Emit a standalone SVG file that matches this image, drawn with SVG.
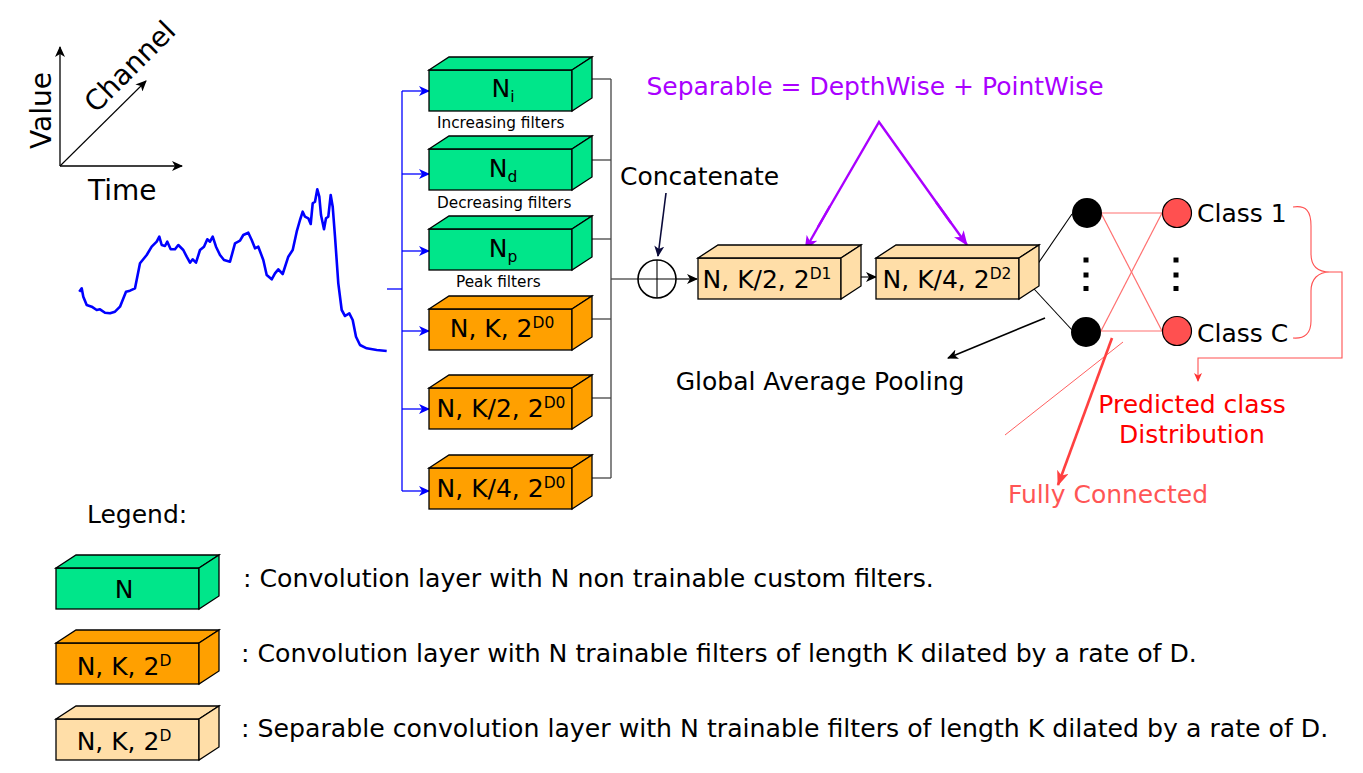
<svg xmlns="http://www.w3.org/2000/svg" xmlns:xlink="http://www.w3.org/1999/xlink" width="1363" height="773" viewBox="0 0 1363 773">
<style>
text{font-family:"DejaVu Sans","Liberation Sans",sans-serif;fill:#000}
.box{stroke:#000;stroke-width:1.3;stroke-linejoin:miter}
.g{fill:#00e68a}.o{fill:#ffa000}.t{fill:#ffdea8}
.bt{font-size:25px;text-anchor:middle}
.lab{font-size:15.3px}
.big{font-size:25px}
.ax{font-size:28px}
.leg{font-size:25.2px}
.sub{font-size:15.5px}
.blue{stroke:#0000ff;fill:none}
.gray{stroke:#444;fill:none}
.blk{stroke:#000;fill:none}
.fc{stroke:#ff7070;fill:none}
</style>
<defs>
<g id="box">
<rect x="0" y="0" width="143" height="41"/>
<polygon points="0,0 20,-13 163,-13 143,0"/>
<polygon points="143,0 163,-13 163,28 143,41"/>
</g>
<marker id="ab" markerWidth="12" markerHeight="10" refX="10" refY="5" orient="auto" markerUnits="userSpaceOnUse"><path d="M0,0 L11,5 L0,10 L3,5 Z" fill="#0000ff"/></marker>
<marker id="ak" markerWidth="12" markerHeight="10" refX="10" refY="5" orient="auto" markerUnits="userSpaceOnUse"><path d="M0,0 L11,5 L0,10 L3,5 Z" fill="#000"/></marker>
<marker id="an" markerWidth="12" markerHeight="10" refX="10" refY="5" orient="auto" markerUnits="userSpaceOnUse"><path d="M0,0 L11,5 L0,10 L3,5 Z" fill="#0a0a3a"/></marker>
<marker id="ap" markerWidth="16" markerHeight="12" refX="14" refY="6" orient="auto" markerUnits="userSpaceOnUse"><path d="M0,0 L15,6 L0,12 L4,6 Z" fill="#aa00ff"/></marker>
<marker id="ar" markerWidth="16" markerHeight="12" refX="14" refY="6" orient="auto" markerUnits="userSpaceOnUse"><path d="M0,0 L15,6 L0,12 L4,6 Z" fill="#ff4040"/></marker>
<marker id="ar2" markerWidth="10" markerHeight="8" refX="8" refY="4" orient="auto" markerUnits="userSpaceOnUse"><path d="M0,0 L9,4 L0,8 L2.5,4 Z" fill="#ff3030"/></marker>
</defs>

<!-- axes -->
<g id="axes">
<line x1="60" y1="166" x2="60" y2="47" class="blk" stroke-width="1.3" marker-end="url(#ak)"/>
<line x1="60" y1="166" x2="182" y2="166" class="blk" stroke-width="1.3" marker-end="url(#ak)"/>
<line x1="60" y1="166" x2="146" y2="81" class="blk" stroke-width="1.1" marker-end="url(#ak)"/>
<text x="51" y="149" class="ax" transform="rotate(-90 51 149)">Value</text>
<text x="88" y="200" class="ax">Time</text>
<text x="96" y="114" class="ax" transform="rotate(-45 96 114)">Channel</text>
</g>

<!-- signal -->
<g id="signal">
<path class="blue" stroke-width="2.6" stroke-linejoin="round" d="M79.3,291.7 L81.7,288.3 L83.3,296.7 L86.7,305 L91.7,306.7 L96.7,310 L100,309.3 L105,312.7 L110,313.3 L115,311.7 L120,306.7 L126,291.7 L130,290.7 L135,288.3 L140,263.3 L146.7,255 L151.7,246.7 L156.7,241.7 L159.3,236.7 L161.7,245 L165,246 L167.3,241.7 L170.7,249.3 L175,249.3 L178.3,245 L183.3,250 L186.7,256.7 L190,262.7 L192.7,259.3 L196,262.7 L200,250 L204,246.7 L207.3,239.3 L210,241.7 L212.7,236.7 L216,246.7 L220,255 L224,260 L230,261.7 L235,243.3 L240,240.7 L243.3,235 L248.3,232.7 L251.7,240 L255,248.3 L258.3,246.7 L263.3,260 L266.7,275 L271.7,279.3 L275,273.3 L278.3,269.3 L282.7,274 L288.3,256.7 L292.7,250 L296.7,231.7 L300,220 L302.7,211.7 L305,216.7 L308.3,218.3 L310.7,224 L312.7,203.3 L315,201.7 L317.3,189.3 L319.3,196.7 L321,215 L324,229.3 L326,218.3 L328.3,216.7 L330.7,195 L332.7,206.7 L335,236.7 L338.3,283.3 L341.7,310 L345,316 L349.3,313.3 L352.7,320 L356,336.7 L360,345 L366.7,348.3 L376.7,350 L386.7,351"/>
</g>

<!-- connectors -->
<g id="connectors" stroke-width="1.3">
<line x1="387" y1="289" x2="402" y2="289" class="blue"/>
<line x1="402" y1="91" x2="402" y2="491" class="blue"/>
<line x1="402" y1="91" x2="429" y2="91" class="blue" marker-end="url(#ab)"/>
<line x1="402" y1="174" x2="429" y2="174" class="blue" marker-end="url(#ab)"/>
<line x1="402" y1="251" x2="429" y2="251" class="blue" marker-end="url(#ab)"/>
<line x1="402" y1="331" x2="429" y2="331" class="blue" marker-end="url(#ab)"/>
<line x1="402" y1="409" x2="429" y2="409" class="blue" marker-end="url(#ab)"/>
<line x1="402" y1="491" x2="429" y2="491" class="blue" marker-end="url(#ab)"/>

<line x1="592" y1="79" x2="611" y2="79" class="gray"/>
<line x1="592" y1="160" x2="611" y2="160" class="gray"/>
<line x1="592" y1="239" x2="611" y2="239" class="gray"/>
<line x1="592" y1="319" x2="611" y2="319" class="gray"/>
<line x1="592" y1="398" x2="611" y2="398" class="gray"/>
<line x1="592" y1="478" x2="611" y2="478" class="gray"/>
<line x1="611" y1="79" x2="611" y2="478" class="gray"/>
<line x1="611" y1="279" x2="638" y2="279" class="gray"/>

<line x1="676" y1="279" x2="697" y2="279" class="blk" stroke-width="1.2" marker-end="url(#ak)"/>
<line x1="666" y1="193" x2="658" y2="256" stroke="#0a0a3a" stroke-width="1.6" marker-end="url(#an)"/>
<line x1="853" y1="277" x2="876" y2="277" class="blk" stroke-width="1.1" marker-end="url(#ak)"/>

<polyline points="818,227 879,122 951,223" fill="none" stroke="#aa00ff" stroke-width="2.4" stroke-linejoin="miter"/>
<line x1="830" y1="206" x2="805" y2="250" stroke="#aa00ff" stroke-width="2.4" marker-end="url(#ap)"/>
<line x1="936" y1="202" x2="967" y2="245" stroke="#aa00ff" stroke-width="2.4" marker-end="url(#ap)"/>

<line x1="1045" y1="318" x2="948" y2="358" class="blk" stroke-width="1.6" marker-end="url(#ak)"/>

<line x1="1035" y1="268" x2="1072" y2="214" class="blk" stroke-width="1.1"/>
<line x1="1023" y1="277" x2="1072" y2="330" class="blk" stroke-width="1.1"/>
<line x1="1026" y1="276" x2="1035" y2="272" stroke="#000" stroke-width="1" stroke-dasharray="1.5,1.5"/>

<line x1="1101" y1="213" x2="1162" y2="213" class="fc" stroke-width="1.2"/>
<line x1="1101" y1="331" x2="1162" y2="331" class="fc" stroke-width="1.2"/>
<line x1="1101" y1="213" x2="1162" y2="331" class="fc" stroke-width="1.2"/>
<line x1="1101" y1="331" x2="1162" y2="213" class="fc" stroke-width="1.2"/>

<line x1="1123" y1="342" x2="1005" y2="435" stroke="#ff6060" stroke-width="1"/>
<line x1="1112" y1="338" x2="1058" y2="485" stroke="#ff4040" stroke-width="2.6" marker-end="url(#ar)"/>

<path d="M1293,207 C1306,205 1311,211 1311,226 L1311,254 C1311,266 1318,272 1330,272 C1318,272 1311,279 1311,291 L1311,321 C1311,333 1305,339 1293,338" fill="none" stroke="#ff5050" stroke-width="1.1"/>
<polyline points="1330,272 1342,272 1342,358 1198,358 1198,381" fill="none" stroke="#ff5050" stroke-width="1.1" marker-end="url(#ar2)"/>
</g>

<!-- filter blocks -->
<g id="block-ni"><use xlink:href="#box" href="#box" x="429" y="70" class="box g"/>
<text x="503" y="97" class="bt">N<tspan class="sub" dy="5">i</tspan></text>
<text x="437" y="128" class="lab">Increasing filters</text></g>
<g id="block-nd"><use xlink:href="#box" href="#box" x="429" y="149" class="box g"/>
<text x="503" y="177" class="bt">N<tspan class="sub" dy="5">d</tspan></text>
<text x="437" y="208" class="lab">Decreasing filters</text></g>
<g id="block-np"><use xlink:href="#box" href="#box" x="429" y="229" class="box g"/>
<text x="503" y="257" class="bt">N<tspan class="sub" dy="5">p</tspan></text>
<text x="456" y="287" class="lab">Peak filters</text></g>
<g id="block-k"><use xlink:href="#box" href="#box" x="429" y="309" class="box o"/>
<text x="502" y="337" class="bt">N, K, 2<tspan class="sub" dy="-9">D0</tspan></text></g>
<g id="block-k2"><use xlink:href="#box" href="#box" x="429" y="388" class="box o"/>
<text x="501" y="417" class="bt">N, K/2, 2<tspan class="sub" dy="-9">D0</tspan></text></g>
<g id="block-k4"><use xlink:href="#box" href="#box" x="429" y="468" class="box o"/>
<text x="501" y="497" class="bt">N, K/4, 2<tspan class="sub" dy="-9">D0</tspan></text></g>

<!-- concatenate -->
<g id="concat">
<circle cx="657" cy="279" r="19" fill="#fff" stroke="#000" stroke-width="1.6"/>
<line x1="638" y1="279" x2="676" y2="279" stroke="#000" stroke-width="1.1"/>
<line x1="657" y1="260" x2="657" y2="298" stroke="#000" stroke-width="1.1"/>
<text x="620" y="185" class="big">Concatenate</text>
</g>

<!-- separable blocks -->
<g id="block-s1"><use xlink:href="#box" href="#box" x="698" y="258" class="box t"/>
<text x="767" y="288" class="bt">N, K/2, 2<tspan class="sub" dy="-9">D1</tspan></text></g>
<g id="block-s2"><use xlink:href="#box" href="#box" x="876" y="258" class="box t"/>
<text x="947" y="288" class="bt">N, K/4, 2<tspan class="sub" dy="-9">D2</tspan></text></g>

<text x="875" y="95" class="big" text-anchor="middle" style="fill:#aa00ff">Separable = DepthWise + PointWise</text>
<text x="820" y="390" class="big" text-anchor="middle">Global Average Pooling</text>

<!-- FC nodes -->
<g id="fc-nodes">
<circle cx="1087" cy="213" r="15" fill="#000"/>
<circle cx="1086" cy="332" r="15" fill="#000"/>
<rect x="1083.5" y="257.5" width="5" height="5" fill="#000"/>
<rect x="1083.5" y="272.5" width="5" height="5" fill="#000"/>
<rect x="1083.5" y="286" width="5" height="5" fill="#000"/>
<circle cx="1177" cy="213" r="14.5" fill="#ff5050" stroke="#000" stroke-width="1.2"/>
<circle cx="1177" cy="331" r="14.5" fill="#ff5050" stroke="#000" stroke-width="1.2"/>
<rect x="1173.5" y="257.5" width="5" height="5" fill="#000"/>
<rect x="1173.5" y="272.5" width="5" height="5" fill="#000"/>
<rect x="1173.5" y="286" width="5" height="5" fill="#000"/>
<text x="1197" y="222" class="big">Class 1</text>
<text x="1197" y="342" class="big">Class C</text>
</g>

<text x="1192" y="413" class="big" text-anchor="middle" style="fill:#ff0000">Predicted class</text>
<text x="1192" y="443" class="big" text-anchor="middle" style="fill:#ff0000">Distribution</text>
<text x="1108" y="503" class="big" text-anchor="middle" style="fill:#ff5555">Fully Connected</text>

<!-- legend -->
<g id="legend">
<text x="87" y="523" class="big">Legend:</text>
<use xlink:href="#box" href="#box" x="56" y="568" class="box g"/>
<text x="124" y="598" class="bt">N</text>
<use xlink:href="#box" href="#box" x="56" y="643" class="box o"/>
<text x="124" y="675" class="bt">N, K, 2<tspan class="sub" dy="-9">D</tspan></text>
<use xlink:href="#box" href="#box" x="56" y="719" class="box t"/>
<text x="124" y="750" class="bt">N, K, 2<tspan class="sub" dy="-9">D</tspan></text>
<text x="243" y="587" class="leg">: Convolution layer with N non trainable custom filters.</text>
<text x="241" y="662" class="leg">: Convolution layer with N trainable filters of length K dilated by a rate of D.</text>
<text x="241" y="737" class="leg">: Separable convolution layer with N trainable filters of length K dilated by a rate of D.</text>
</g>
</svg>
